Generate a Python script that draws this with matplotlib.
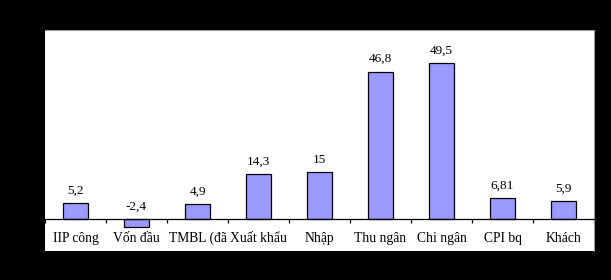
import matplotlib
matplotlib.use("Agg")
import matplotlib.pyplot as plt
import numpy as np

categories = ["IIP công\nnghiệp", "Vốn đầu\ntư XH", "TMBL (đã\ntrừ giá)", "Xuất khẩu",
              "Nhập\nkhẩu", "Thu ngân\nsách NN", "Chi ngân\nsách NN", "CPI bq",
              "Khách\nquốc tế"]
values = [5.2, -2.4, 4.9, 14.3, 15, 46.8, 49.5, 6.81, 5.9]
value_labels = ["5,2", "-2,4", "4,9", "14,3", "15", "46,8", "49,5", "6,81", "5,9"]

plt.rcParams['font.family'] = ['Liberation Serif', 'DejaVu Serif']

fig = plt.figure(figsize=(6.11, 2.80), dpi=100, facecolor='black')
ax = fig.add_axes([45/611, (280-251)/280, (594-45)/611, (251-30)/280])
ax.set_facecolor('white')

x = np.arange(len(values))
ax.bar(x, values, width=0.4, color='#9999FF', edgecolor='black', linewidth=0.9, zorder=2)

ax.set_xlim(-0.5, len(values) - 0.5)
ax.set_ylim(-10, 60)

# category axis sits on the zero line, ticks between categories
ax.spines['bottom'].set_position(('data', 0))
ax.spines['bottom'].set_linewidth(0.9)
ax.spines['left'].set_visible(False)
ax.spines['top'].set_color('#999999')
ax.spines['right'].set_color('#999999')
ax.set_yticks([])
ax.set_xticks(np.arange(-0.5, len(values), 1.0))
ax.set_xticklabels([])
ax.tick_params(axis='x', direction='out', length=3, width=0.9)

for xi, v, lab in zip(x, values, value_labels):
    ax.annotate(lab, (xi, max(v, 0)), xytext=(0, 9), textcoords='offset points',
                ha='center', va='center', fontsize=9.5)

for xi, cat in zip(x, categories):
    ax.annotate(cat, (xi, 0), xytext=(0, -9), textcoords='offset points',
                ha='center', va='top', fontsize=9.8, linespacing=1.75,
                clip_on=True)

fig.savefig("out.png", dpi=100, facecolor='black')
